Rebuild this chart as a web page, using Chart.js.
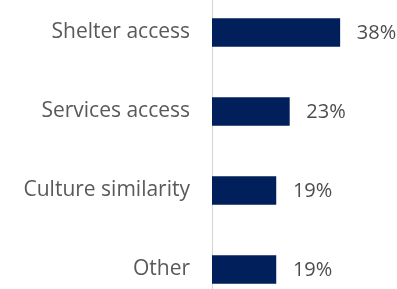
<!DOCTYPE html>
<html>
<head>
<meta charset="utf-8">
<script src="https://cdn.jsdelivr.net/npm/chart.js@4"></script>
<style>
  html, body { margin: 0; padding: 0; background: #fff; overflow: hidden; }
  #grafico { position: absolute; left: 0; top: -7px; }
</style>
</head>
<body>
<canvas id="grafico" width="397" height="316"></canvas>
<script>
const categorias = ['Shelter access', 'Services access', 'Culture similarity', 'Other'];
const valores = [38, 23, 19, 19];
const rotulos = ['38%', '23%', '19%', '19%'];

// rótulos de valor à direita das barras
const rotulosPlugin = {
  id: 'rotulos',
  afterDatasetsDraw(chart) {
    const ctx = chart.ctx;
    const meta = chart.getDatasetMeta(0);
    ctx.save();
    ctx.font = '20px "Open Sans"';
    ctx.fillStyle = '#4d4d4d';
    ctx.textAlign = 'left';
    ctx.textBaseline = 'middle';
    meta.data.forEach((bar, i) => {
      ctx.fillText(rotulos[i], bar.x + 17, bar.y + 1);
    });
    ctx.restore();
  }
};

new Chart(document.getElementById('grafico').getContext('2d'), {
  type: 'bar',
  data: {
    labels: categorias,
    datasets: [{ data: valores, backgroundColor: '#001f5b', barThickness: 28 }]
  },
  options: {
    indexAxis: 'y',
    responsive: false,
    animation: false,
    layout: { padding: 0 },
    plugins: { legend: { display: false }, tooltip: { enabled: false } },
    scales: {
      x: { display: false, min: 0, max: 55 },
      y: {
        grid: { display: false, drawTicks: false },
        border: { display: true, color: '#d4d4d4', width: 1 },
        ticks: { color: '#595959', font: { family: 'Open Sans', size: 21 }, padding: 22 },
        afterFit(scale) {
          scale.width = 212;
          scale.paddingTop = 0;
          scale.paddingBottom = 0;
        }
      }
    }
  },
  plugins: [rotulosPlugin]
});
</script>
</body>
</html>
